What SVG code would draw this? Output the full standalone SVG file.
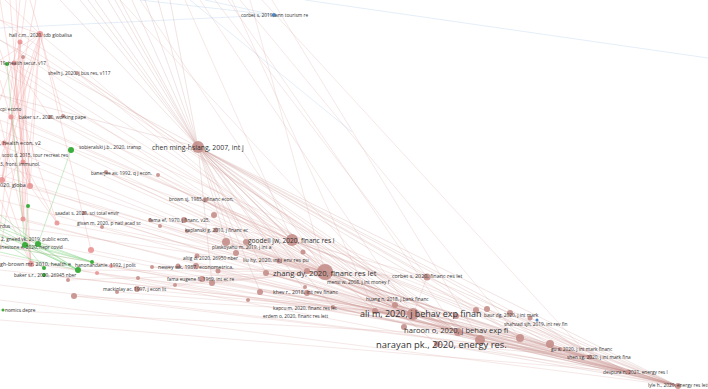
<svg xmlns="http://www.w3.org/2000/svg" width="708" height="389" viewBox="0 0 708 389">
<style>
.e{fill:none;stroke:#dcaaa6;stroke-width:0.5;opacity:0.55}
.ed{fill:none;stroke:#c8928e;stroke-width:0.5;opacity:0.5}
.ep{fill:none;stroke:#f2a4a4;stroke-width:0.6;opacity:0.55}
.eg{fill:none;stroke:#86d486;stroke-width:0.8;opacity:0.55}
.eb{fill:none;stroke:#b4cfea;stroke-width:0.6;opacity:0.6}
.n{fill:#c48e8a;opacity:0.9}
.np{fill:#e88e8e;opacity:0.85}
.ng{fill:#3dae3d}
.nb{fill:#4f86c6}
text{font-family:"Open Sans","Liberation Sans",sans-serif;fill:#333}
.s{font-size:4.8px}
.m{font-size:5.4px}
</style>
<rect width="708" height="389" fill="#fff"/>
<g id="connectors">
<path class="eb" d="M274 15L140 0M274 15L0 28M274 15L205 0M190 0L352 132M305 0L708 58"/>
<path class="ep" d="M0 0L30 186M10 0L23 162M20 0L2 180M40 34L30 186M20 42L23 219M14 63L31 264M40 34L23 219M23 57L2 180M40 34L11 117M20 42L30 186M11 117L31 264M0 50L57 223M40 34L91 250M40 34L0 250M20 42L0 230M11 117L23 219M23 162L2 180M30 186L57 223M23 219L31 264M0 80L30 186M40 34L14 63M40 34L0 60M40 34L0 20M20 42L0 100M23 57L30 186M5 0L40 34M30 0L40 34M0 140L30 186M14 63L23 162M11 117L30 186M2 180L31 264M23 162L57 223M40 34L63 116M14 63L50 117M36 0L2 180M26 0L11 117M44 34L0 160M0 120L23 219M0 200L31 264M16 0L31 264M40 34L2 180M23 57L23 219"/>
<path class="eg" d="M0 222L78 270M0 228L92 262M0 234L78 270M0 240L44 268M25 245L78 270M38 244L92 262M25 245L92 262M38 244L78 270M0 246L92 262M28 206L25 245M0 215L38 244M7 64L25 245M71 150L38 244M0 252L78 270M0 236L92 262M0 230L78 270M25 245L44 268"/>
<path class="ed" d="M198 147L60 0M198 147L80 0M198 147L95 0M198 147L108 0M198 147L120 0M198 147L132 0M198 147L145 0M198 147L158 0M198 147L170 0M198 147L0 40M198 147L0 95M198 147L88 0M198 147L115 0"/>
<path class="ed" d="M198 147L292 240M198 147L325 272M198 147L307 271M198 147L266 273M198 147L226 241M198 147L246 242M198 147L236 252M198 147L427 277M198 147L413 315M198 147L375 311M198 147L395 305M198 147L458 332M198 147L480 340M198 147L520 338M198 147L550 344M198 147L590 357M198 147L628 372M198 147L678 386M198 147L260 291M198 147L307 293M198 147L333 307M198 147L303 252M198 147L280 261M198 147L437 344M198 147L212 283"/>
<path class="e" d="M200 0L413 315M215 0L427 277M228 0L458 332M240 0L520 338M250 0L325 272M262 0L590 357M185 0L292 240M140 0L325 272M120 0L413 315M272 0L480 340M232 0L375 311"/>
<path class="e" d="M0 40L413 315M0 70L480 340M0 95L590 357M0 120L678 386M0 145L413 315M0 165L325 272M0 185L480 340M0 200L628 372M0 215L413 315M0 235L590 357M0 255L678 386M0 60L325 272M0 110L292 240M0 130L458 332M0 175L520 338M0 225L325 272M0 245L458 332M0 270L413 315M0 285L590 357M0 300L678 386M0 310L520 338M0 20L458 332M0 320L628 372"/>
<path class="e" d="M30 186L413 315M2 180L325 272M23 219L458 332M31 264L413 315M57 223L325 272M91 250L413 315M40 34L325 272M14 63L413 315M11 117L292 240M23 162L458 332M20 42L480 340M50 117L325 272M63 116L413 315M77 73L325 272M77 73L458 332M74 296L413 315M74 296L590 357M68 280L325 272M97 273L458 332M44 275L413 315M78 270L325 272M92 262L413 315M71 150L325 272"/>
<path class="e" d="M106 172L325 272M106 172L413 315M158 175L292 240M158 175L413 315M205 201L325 272M205 201L413 315M184 220L325 272M184 220L413 315M184 220L292 240M84 213L325 272M84 213L413 315M102 227L325 272M178 266L325 272M178 266L413 315M202 279L325 272M202 279L413 315M137 289L325 272M137 289L413 315M150 220L325 272M160 226L413 315M226 241L325 272M246 242L413 315M236 252L325 272M266 273L413 315M280 261L413 315M303 252L458 332M214 215L325 272M215 231L413 315M186 231L325 272M196 266L413 315M218 272L458 332M212 283L325 272M248 299L413 315M175 284L325 272M117 292L413 315M152 267L325 272M111 267L413 315M138 278L458 332M427 277L413 315M427 277L325 272M427 277L292 240M427 277L520 338M292 240L325 272M292 240L413 315M292 240L458 332M106 172L292 240M205 201L292 240"/>
<path class="ed" d="M325 272L678 386M307 271L678 386M266 273L678 386M413 315L678 386M375 311L678 386M395 305L678 386M458 332L678 386M480 340L678 386M437 344L678 386M520 338L678 386M550 344L678 386M333 307L678 386M307 293L678 386M260 291L678 386M427 277L678 386M292 240L678 386M325 272L628 372M413 315L628 372M375 311L628 372M458 332L628 372M480 340L628 372M437 344L628 372M520 338L628 372M550 344L628 372M333 307L628 372M307 293L628 372M292 240L628 372M325 272L590 357M413 315L590 357M458 332L590 357M480 340L590 357M520 338L590 357M395 305L590 357M437 344L590 357M325 272L560 349M413 315L560 349M458 332L560 349M292 240L560 349M590 357L678 386M628 372L678 386M560 349L678 386M325 272L413 315M325 272L458 332M325 272L480 340M413 315L458 332M413 315L520 338M375 311L480 340M395 305L520 338M487 309L678 386M510 313L628 372M530 318L678 386M537 320L590 357M307 271L413 315M266 273L458 332M260 291L413 315M307 293L458 332"/>
</g>
<g id="n-corbet2019"><circle class="nb" cx="274" cy="15" r="2"/><text class="s" x="241" y="17">corbet s, 2019, ann tourism re</text></g>
<g id="n-hall"><circle class="np" cx="40" cy="34" r="3"/><circle class="np" cx="20" cy="42" r="2.5"/><circle class="n" cx="23" cy="57" r="2"/><text class="s" x="9" y="37">hall c.m., 2020, tdb globalisa</text></g>
<g id="n-healthsecur"><circle class="np" cx="14" cy="63" r="2.5"/><circle class="ng" cx="7" cy="64" r="2"/><text class="s" x="0" y="65">19, health secur, v17</text></g>
<g id="n-shelh"><circle class="n" cx="77" cy="73" r="2"/><text class="s" x="48" y="75">shelh j, 2020, j bus res, v117</text></g>
<g id="n-cpi"><text class="s" x="0" y="111">cpi econo</text></g>
<g id="n-baker-wp"><circle class="np" cx="11" cy="117" r="2.5"/><circle class="n" cx="50" cy="117" r="2"/><circle class="n" cx="63" cy="116" r="2"/><text class="s" x="19" y="119">baker s.r., 2020, working pape</text></g>
<g id="n-healthecon"><circle class="np" cx="4" cy="143" r="2.5"/><text class="m" x="0" y="145">, health econ, v2</text></g>
<g id="n-sobieralski"><circle class="ng" cx="71" cy="150" r="3"/><text class="s" x="79" y="149">sobieralski j.b., 2020, transp</text></g>
<g id="n-scott"><text class="s" x="2" y="157">scott d, 2015, tour recreat res</text></g>
<g id="n-immunol"><circle class="np" cx="23" cy="162" r="2.5"/><text class="s" x="0" y="166">3, front. immunol.</text></g>
<g id="n-globa"><circle class="np" cx="2" cy="180" r="3"/><circle class="np" cx="30" cy="186" r="3"/><text class="m" x="0" y="187">020, globa</text></g>
<g id="n-banerjee"><circle class="n" cx="106" cy="172" r="2"/><circle class="n" cx="158" cy="175" r="2"/><text class="s" x="91" y="175">banerjee av, 1992, q j econ,</text></g>
<g id="n-chen"><circle class="n" cx="198" cy="147" r="6"/><text x="152" y="150" font-size="6.9">chen ming-hsiang, 2007, int j</text></g>
<g id="n-brown"><circle class="n" cx="205" cy="200" r="2.5"/><circle class="n" cx="214" cy="215" r="3"/><text class="s" x="169" y="201">brown sj, 1985, j financ econ,</text></g>
<g id="n-saadat"><circle class="ng" cx="28" cy="206" r="2"/><circle class="n" cx="84" cy="213" r="2"/><circle class="np" cx="23" cy="219" r="2.5"/><circle class="np" cx="57" cy="223" r="2.5"/><text class="s" x="55" y="215">saadat s, 2020, sci total envir</text></g>
<g id="n-givan"><circle class="n" cx="102" cy="227" r="2"/><text class="s" x="77" y="225">givan m, 2020, p natl acad sc</text></g>
<g id="n-fama"><circle class="n" cx="150" cy="220" r="2"/><circle class="n" cx="184" cy="220" r="3"/><circle class="n" cx="160" cy="226" r="2"/><text class="s" x="149" y="222">fama ef, 1970, j financ, v25,</text></g>
<g id="n-kaplanski"><circle class="n" cx="187" cy="231" r="2"/><circle class="n" cx="216" cy="230" r="2.5"/><text class="s" x="185" y="232">kaplanski g, 2010, j financ ec</text></g>
<g id="n-rdus"><text class="s" x="0" y="228">rdus</text></g>
<g id="n-gneed"><circle class="ng" cx="25" cy="245" r="3"/><circle class="ng" cx="38" cy="244" r="3"/><text class="s" x="1" y="241">2, gneed vk, 2019, public econ,</text></g>
<g id="n-nepr"><text class="s" x="0" y="249">inestone e, 2020, nepr covid</text></g>
<g id="n-pink250"><circle class="np" cx="91" cy="250" r="3"/></g>
<g id="n-goodell"><circle class="n" cx="226" cy="242" r="4"/><circle class="n" cx="246" cy="242" r="3"/><circle class="n" cx="236" cy="253" r="3"/><circle class="n" cx="292" cy="240" r="6"/><circle class="n" cx="303" cy="252" r="2.5"/><text x="248" y="243" font-size="6.6">goodell jw, 2020, financ res l</text></g>
<g id="n-plaskoyahu"><text class="s" x="212" y="249">plaskoyahu m, 2019, j int a</text></g>
<g id="n-altig"><circle class="n" cx="197" cy="256" r="2.5"/><text class="s" x="183" y="260">altig d, 2020, 26950 nber</text></g>
<g id="n-liu"><circle class="n" cx="279" cy="261" r="2.5"/><text x="243" y="262" font-size="5.2">liu hy, 2020, int j env res pu</text></g>
<g id="n-brownmr"><circle class="np" cx="31" cy="264" r="3"/><text class="m" x="0" y="266">gh-brown mr, 2010, health e</text></g>
<g id="n-hanon"><circle class="ng" cx="92" cy="262" r="2"/><circle class="ng" cx="78" cy="270" r="3"/><circle class="np" cx="111" cy="266" r="2"/><text class="s" x="75" y="267">hanonandanie, 1992, j polit</text></g>
<g id="n-baker-nber"><circle class="ng" cx="44" cy="268" r="2"/><circle class="ng" cx="44" cy="275" r="2"/><circle class="np" cx="97" cy="273" r="2"/><text class="s" x="14" y="277">baker s.r., 2020, 26945 nber</text></g>
<g id="n-newey"><circle class="n" cx="152" cy="267" r="2"/><circle class="n" cx="178" cy="266" r="2.5"/><circle class="n" cx="196" cy="266" r="3"/><circle class="n" cx="218" cy="271" r="2.5"/><text x="158" y="269" font-size="5.2">newey wk, 1987, econometrica,</text></g>
<g id="n-zhang"><circle class="n" cx="266" cy="273" r="3"/><circle class="n" cx="307" cy="271" r="3"/><circle class="n" cx="325" cy="272" r="8"/><text x="273" y="276" font-size="7.7">zhang dy, 2020, financ res let</text></g>
<g id="n-corbet2020"><circle class="n" cx="427" cy="277" r="3.5"/><text x="392" y="278" font-size="5.4">corbet s, 2020, financ res let</text></g>
<g id="n-famaeugene"><circle class="n" cx="138" cy="278" r="2"/><circle class="n" cx="68" cy="280" r="2"/><circle class="n" cx="202" cy="279" r="3"/><circle class="n" cx="212" cy="283" r="3"/><circle class="n" cx="175" cy="285" r="2"/><text class="s" x="167" y="281">fama eugene f., 1969, int ec re</text></g>
<g id="n-money"><circle class="n" cx="305" cy="287" r="2"/><text class="s" x="327" y="284">mensi w, 2008, j int money f</text></g>
<g id="n-kikev"><circle class="n" cx="260" cy="292" r="3"/><circle class="n" cx="307" cy="293" r="3"/><text x="273" y="294" font-size="5.2">khev r., 2018, int rev financ</text></g>
<g id="n-mackinlay"><circle class="n" cx="74" cy="296" r="3"/><circle class="n" cx="117" cy="292" r="2"/><circle class="n" cx="137" cy="289" r="3"/><text class="s" x="103" y="291">mackinlay ac, 1997, j econ lit</text></g>
<g id="n-huang"><text class="s" x="366" y="301">huang n, 2018, j bank financ</text></g>
<g id="n-kapcu"><circle class="n" cx="248" cy="300" r="2"/><circle class="n" cx="333" cy="307" r="2"/><text class="s" x="273" y="310">kapcu m, 2020, financ res let</text></g>
<g id="n-erdem"><text class="s" x="263" y="318">erdem o, 2020, financ res lett</text></g>
<g id="n-economics"><circle class="ng" cx="3" cy="310" r="1.5"/><text class="s" x="5" y="312">nomics depre</text></g>
<g id="n-ali"><circle class="n" cx="375" cy="311" r="3"/><circle class="n" cx="395" cy="305" r="3"/><circle class="n" cx="413" cy="314" r="6"/><circle class="n" cx="456" cy="316" r="3"/><circle class="n" cx="476" cy="310" r="3"/><text x="360" y="317" font-size="9">ali m, 2020, j behav exp finan</text></g>
<g id="n-baur"><circle class="n" cx="487" cy="309" r="3"/><circle class="n" cx="510" cy="313" r="3"/><circle class="n" cx="530" cy="318" r="2.5"/><text class="s" x="484" y="317">baur dg, 2020, j int mark</text></g>
<g id="n-shahzad"><circle class="nb" cx="537" cy="320" r="1.5"/><text class="s" x="504" y="326">shahzad sjh, 2019, int rev fin</text></g>
<g id="n-haroon"><circle class="n" cx="404" cy="327" r="3"/><circle class="n" cx="458" cy="332" r="4"/><text x="404" y="333" font-size="7.6">haroon o, 2020, j behav exp fi</text></g>
<g id="n-narayan"><circle class="n" cx="437" cy="344" r="3"/><circle class="n" cx="480" cy="340" r="5"/><circle class="n" cx="520" cy="338" r="4"/><circle class="n" cx="550" cy="344" r="4"/><text x="376" y="348" font-size="9.4">narayan pk., 2020, energy res.</text></g>
<g id="n-gu"><circle class="n" cx="560" cy="349" r="2"/><text class="s" x="551" y="351">gu x, 2020, j int mark financ</text></g>
<g id="n-shen"><circle class="n" cx="590" cy="357" r="2.5"/><text class="s" x="567" y="359">shen sg, 2020, j int mark fina</text></g>
<g id="n-devpura"><circle class="n" cx="628" cy="372" r="2.5"/><text class="s" x="603" y="374">devpura n, 2021, energy res l</text></g>
<g id="n-lyle"><circle class="n" cx="678" cy="386" r="3"/><text class="s" x="648" y="387">lyle h., 2020, energy res lett</text></g>
</svg>
